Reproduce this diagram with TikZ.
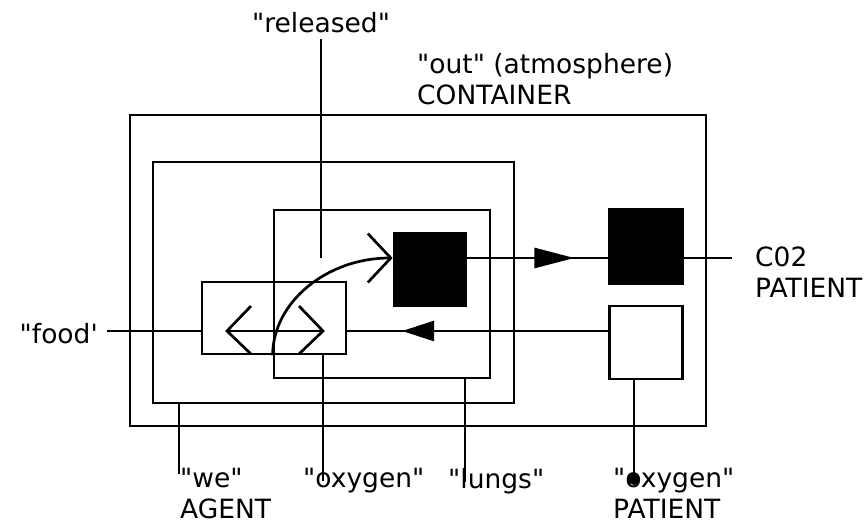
\documentclass[tikz,border=0pt]{standalone}
\usepackage{fontspec}
\newfontfamily\lblfont{DejaVu Sans}
\usepackage{tikz}
\usetikzlibrary{arrows.meta, positioning, calc, decorations.markings}
\tikzstyle{box} = [rectangle, draw=black, fill=none, line width=2.7pt, inner sep=0pt]
\tikzstyle{blackbox} = [box, fill=black]
\tikzstyle{wire} = [draw=black, line width=2.7pt]
\tikzstyle{lbl} = [font=\lblfont\fontsize{26.5}{31}\selectfont, text=black, inner sep=0pt, align=left]
\tikzset{midtri/.style 2 args={postaction={decorate}, decoration={markings, mark=at position #1 with {\arrow{Triangle[length=#2, width=20pt]}}}}}

\begin{document}
\begin{tikzpicture}[x=1pt, y=-1pt]
        \useasboundingbox (0,0) rectangle (866,526);

        % --- nested containers ---
        \node [box, minimum width=576, minimum height=311] (out) at (418,270.5) {};
        \node [box, minimum width=361, minimum height=241] (we) at (333.5,282.5) {};
        \node [box, minimum width=216, minimum height=168] (lungs) at (382,294) {};
        \node [box, minimum width=144, minimum height=72] (oxy) at (274,318) {};

        % --- patients ---
        \node [blackbox, minimum width=72, minimum height=73] (co2in) at (430,269.5) {};
        \node [blackbox, minimum width=74, minimum height=75] (co2out) at (646,246.5) {};
        \node [box, minimum width=73, minimum height=73] (oxyout) at (646,342.5) {};

        % free ends of the flows
        \coordinate (co2end) at (732,258);
        \coordinate (foodend) at (107,331);
        \coordinate (inA) at (227,331);
        \coordinate (inB) at (323,331);
        \coordinate (wefoot) at (179,474);
        \coordinate (lungsfoot) at (465,482);
        \coordinate (oxyoutfoot) at (634,485);

        % --- labels ---
        \node [lbl, anchor=base] (released) at (321,33) {"released"};
        \node [lbl, anchor=north west] (outlbl) at (417,53) {"out" (atmosphere)\\CONTAINER};
        \node [lbl, anchor=north west] (co2lbl) at (755,247) {C02\\PATIENT};
        \node [lbl, anchor=base east] (food) at (98,343) {"food'};
        \node [lbl, anchor=north west] (welbl) at (180,468) {"we"\\AGENT};
        \node [lbl, anchor=north west] (oxylbl) at (303,468) {"oxygen"};
        \node [lbl, anchor=north west] (lungslbl) at (448,468) {"lungs"};
        \node [lbl, anchor=north west] (oxyoutlbl) at (613,468) {"oxygen"\\PATIENT};

        % --- flows ---
        \draw [wire, midtri={107pt}{40pt}] (co2in.east |- co2end) -- (co2end);
        \draw [wire, midtri={206pt}{32pt}] (oxyout.west |- foodend) -- (oxy.east |- foodend);
        \draw [wire] (oxy.west |- foodend) -- (foodend);
        \draw [wire] (inA) -- (inB);
        \draw [wire] ($(inA)+(24,-25)$) -- (inA) -- ($(inA)+(24,23)$);
        \draw [wire] ($(inB)+(-24,-25)$) -- (inB) -- ($(inB)+(-24,23)$);
        \coordinate (curvestart) at (lungs.west |- oxy.south);
        \coordinate (curveend) at (co2in.west |- co2end);
        \draw [wire, -{Straight Barb[length=23pt, width=49pt]}] (curvestart) .. controls ($(curvestart)+(0,-53)$) and ($(curveend)+(-66,0)$) .. (curveend);

        % --- leaders ---
        \draw [wire] ($(released.south)+(0,5)$) -- (released.south |- co2end);
        \draw [wire] (wefoot |- we.south) -- (wefoot);
        \draw [wire] (inB |- oxy.south) -- (inB |- oxylbl.center);
        \draw [wire] (lungsfoot |- lungs.south) -- (lungsfoot);
        \draw [wire, -{Circle[length=12pt]}] (oxyoutfoot |- oxyout.south) -- (oxyoutfoot);
    \end{tikzpicture}
\end{document}
